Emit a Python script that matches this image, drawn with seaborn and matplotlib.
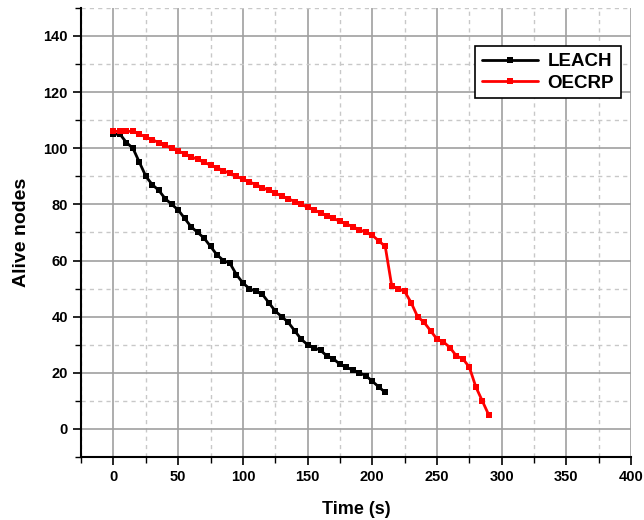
import numpy as np
import pandas as pd
import matplotlib
matplotlib.use('Agg')
import matplotlib.pyplot as plt
from matplotlib.ticker import MultipleLocator
import seaborn as sns

# LEACH: one sample every 5 s
leach_time = list(range(0, 211, 5))
leach_alive = [105, 105, 102, 100, 95, 90, 87, 85, 82, 80,
               78, 75, 72, 70, 68, 65, 62, 60, 59, 55,
               52, 50, 49, 48, 45, 42, 40, 38, 35, 32,
               30, 29, 28, 26, 25, 23, 22, 21, 20, 19,
               17, 15, 13]

# OECRP
oecrp_time = list(range(0, 291, 5))
oecrp_alive = [106, 106, 106, 106, 105, 104, 103, 102, 101, 100,
               99, 98, 97, 96, 95, 94, 93, 92, 91, 90,
               89, 88, 87, 86, 85, 84, 83, 82, 81, 80,
               79, 78, 77, 76, 75, 74, 73, 72, 71, 70,
               69, 67, 65, 51, 50, 49, 45, 40, 38, 35,
               32, 31, 29, 26, 25, 22, 15, 10, 5]

df = pd.concat([
    pd.DataFrame({'Time': leach_time, 'Alive': leach_alive, 'Protocol': 'LEACH'}),
    pd.DataFrame({'Time': oecrp_time, 'Alive': oecrp_alive, 'Protocol': 'OECRP'}),
], ignore_index=True)

sns.set_style('white')
plt.rcParams['font.family'] = ['Liberation Sans', 'DejaVu Sans']
plt.rcParams['text.color'] = 'black'
plt.rcParams['axes.labelcolor'] = 'black'
plt.rcParams['xtick.color'] = 'black'
plt.rcParams['ytick.color'] = 'black'

fig = plt.figure(figsize=(6.44, 5.2), dpi=100)
ax = fig.add_axes([0.126, 0.121, 0.854, 0.864])

sns.lineplot(data=df, x='Time', y='Alive', hue='Protocol',
             palette={'LEACH': 'black', 'OECRP': '#ff0000'},
             marker='s', markersize=3.8, markeredgewidth=0,
             linewidth=2, ax=ax)

ax.set_xlim(-25, 400)
ax.set_ylim(-10, 150)
ax.xaxis.set_minor_locator(MultipleLocator(25))
ax.yaxis.set_minor_locator(MultipleLocator(10))
ax.set_xticks(range(0, 401, 50))
ax.set_yticks(range(0, 141, 20))

ax.grid(which='major', color='#a0a0a0', linewidth=1.2, linestyle='-')
ax.grid(which='minor', color='#c8c8c8', linewidth=1, linestyle=(0, (3, 3)))
ax.set_axisbelow(True)

for s in ['top', 'right']:
    ax.spines[s].set_visible(False)
for s in ['left', 'bottom']:
    ax.spines[s].set_color('black')
    ax.spines[s].set_linewidth(1.5)

ax.tick_params(which='major', direction='out', length=6, width=1.2,
               left=True, bottom=True, labelsize=10.5)
ax.tick_params(which='minor', direction='out', length=4, width=1,
               left=True, bottom=True)
for lab in ax.get_xticklabels() + ax.get_yticklabels():
    lab.set_fontweight('bold')

ax.set_xlabel('Time (s)', fontsize=13, fontweight='bold', labelpad=12)
ax.set_ylabel('Alive nodes', fontsize=14, fontweight='bold', labelpad=10)

leg = ax.legend(loc='upper right', bbox_to_anchor=(0.998, 0.935),
                prop={'weight': 'bold', 'size': 13.5}, frameon=True,
                fancybox=False, edgecolor='black', framealpha=1,
                borderpad=0.35, handlelength=3, labelspacing=0.25,
                handletextpad=0.5)
leg.get_frame().set_linewidth(1.2)

fig.savefig('out.png', dpi=100)
